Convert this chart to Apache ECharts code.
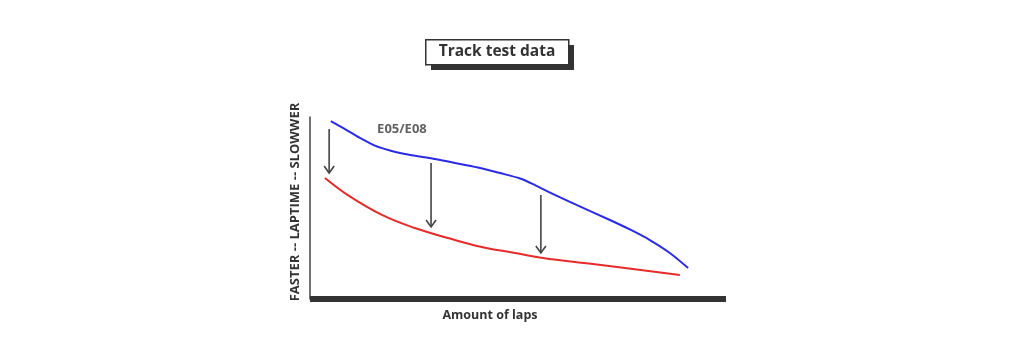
<!DOCTYPE html>
<html>
<head>
<meta charset="utf-8">
<script src="https://cdn.jsdelivr.net/npm/echarts@6/dist/echarts.min.js"></script>
<style>html,body{margin:0;padding:0;background:#fff}#c{width:1024px;height:356px}</style>
</head>
<body>
<div id="c"></div>
<script>
var titleText = 'Track test data';
var xAxisName = 'Amount of laps';
var yAxisName = 'FASTER -- LAPTIME -- SLOWWER';
var seriesLabel = 'E05/E08';
var labelPos = [22.1, 93.4];
// [laps, laptime] in arbitrary units 0-100
var blueData = [[5.0,97.8],[8.4,93.4],[12.0,88.5],[15.6,84.3],[19.2,81.6],[22.8,79.7],[26.4,78.3],[31.3,76.4],[36.1,74.2],[40.9,72.0],[45.7,69.2],[50.5,66.2],[54.1,62.6],[57.7,58.5],[64.2,51.6],[72.1,43.4],[76.9,38.2],[81.7,32.4],[86.5,25.3],[90.9,17.0]];
var redData = [[3.6,66.5],[9.1,57.1],[17.3,46.2],[25.2,39.0],[33.2,33.5],[41.3,28.6],[49.3,25.3],[56.0,22.5],[68.0,19.2],[88.9,13.2]];
// arrows: [x, yFrom, yTo]
var arrows = [[4.6,93.4,69.2],[29.1,74.7,39.6],[55.5,57.1,25.3]];

var FONT = '"Open Sans", "DejaVu Sans", sans-serif';
var chart = echarts.init(document.getElementById('c'), null, {renderer:'canvas'});
chart.setOption({
  animation: false,
  backgroundColor: '#fff',
  graphic: [
    {type: 'rect', left: 431, top: 45, shape: {width: 143, height: 25}, style: {fill: '#333'}, z: 10},
    {type: 'rect', left: 425, top: 39, shape: {width: 143, height: 25}, style: {fill: '#fff', stroke: '#333', lineWidth: 1.5}, z: 11},
    {type: 'text', x: 497, y: 52, z: 12, style: {text: titleText, fontFamily: FONT, fontWeight: 'bold', fontSize: 15.5, fill: '#333', align: 'center', verticalAlign: 'middle'}}
  ],
  grid: {left: 310, right: 298, top: 117, bottom: 57},
  xAxis: {
    type: 'value', min: 0, max: 100,
    name: xAxisName, nameLocation: 'middle', nameGap: 10,
    nameTextStyle: {fontFamily: FONT, fontWeight: 'bold', fontSize: 12.5, color: '#333', padding: [0, 56, 0, 0]},
    axisLine: {show: true, lineStyle: {color: '#333', width: 6, cap: 'butt'}},
    axisTick: {show: false}, axisLabel: {show: false}, splitLine: {show: false}
  },
  yAxis: {
    type: 'value', min: 0, max: 100, offset: 4,
    name: yAxisName, nameLocation: 'middle', nameGap: 4,
    nameTextStyle: {fontFamily: FONT, fontWeight: 'bold', fontSize: 13, color: '#333', padding: [0, 0, 0, 12]},
    axisLine: {show: true, lineStyle: {color: '#444', width: 1.5}},
    axisTick: {show: false}, axisLabel: {show: false}, splitLine: {show: false}
  },
  series: [
    {type: 'line', data: blueData, smooth: 0.3, symbol: 'none', lineStyle: {color: '#2b2be6', width: 2}},
    {type: 'line', data: redData, smooth: 0.4, symbol: 'none', lineStyle: {color: '#e62b2b', width: 2}},
    {type: 'custom', data: arrows,
     renderItem: function (params, api) {
       var p1 = api.coord([api.value(0), api.value(1)]);
       var p2 = api.coord([api.value(0), api.value(2)]);
       return {type: 'group', children: [
         {type: 'line', shape: {x1: p1[0], y1: p1[1], x2: p2[0], y2: p2[1]}, style: {stroke: '#444', lineWidth: 1.6}},
         {type: 'polyline', shape: {points: [[p2[0]-5, p2[1]-7],[p2[0], p2[1]],[p2[0]+5, p2[1]-7]]}, style: {stroke: '#444', lineWidth: 1.6, fill: null}}
       ]};
     }},
    {type: 'scatter', data: [labelPos], symbolSize: 0, silent: true,
     label: {show: true, position: 'inside', formatter: seriesLabel, fontFamily: FONT, fontWeight: 'bold', fontSize: 13, color: '#3a3a3a'}}
  ]
});
</script>
</body>
</html>
